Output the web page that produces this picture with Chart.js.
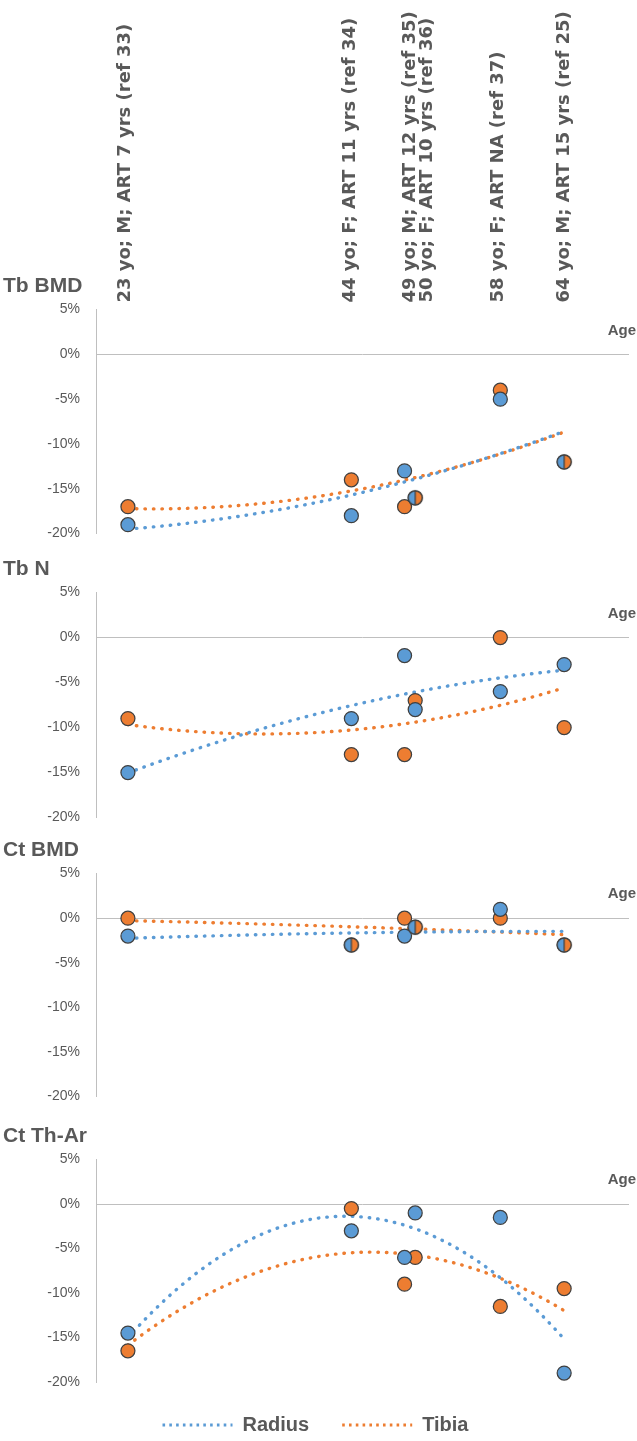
<!DOCTYPE html>
<html>
<head>
<meta charset="utf-8">
<script src="https://cdn.jsdelivr.net/npm/chart.js@4.4.1/dist/chart.umd.min.js"></script>
<style>
  html, body { margin: 0; padding: 0; background: #fff; width: 637px; height: 1441px; overflow: hidden; position: relative; }
  .panel { position: absolute; left: 0; width: 637px; }
</style>
</head>
<body>
<div class="panel" style="top:0px;height:558px"><canvas id="p0"></canvas></div>
<div class="panel" style="top:549px;height:293px"><canvas id="p1"></canvas></div>
<div class="panel" style="top:830px;height:291px"><canvas id="p2"></canvas></div>
<div class="panel" style="top:1116px;height:329px"><canvas id="p3"></canvas></div>
<script>
// ages of the six cases (x values) and the header text above them
const ages = [23, 44, 49, 50, 58, 64];
const caseLabels = [
  '23 yo; M; ART 7 yrs (ref 33)',
  '44 yo; F; ART 11 yrs (ref 34)',
  '49 yo; M; ART 12 yrs (ref 35)',
  '50 yo; F; ART 10 yrs (ref 36)',
  '58 yo; F; ART NA (ref 37)',
  '64 yo; M; ART 15 yrs (ref 25)'
];
const panelTitles = ['Tb BMD', 'Tb N', 'Ct BMD', 'Ct Th-Ar'];
const seriesNames = ['Radius', 'Tibia'];

// % change per case
const tbBmdRadius = [-19, -18, -13, -16, -5, -12];
const tbBmdTibia  = [-17, -14, -17, -16, -4, -12];
const tbNRadius   = [-15, -9, -2, -8, -6, -3];
const tbNTibia    = [-9, -13, -13, -7, 0, -10];
const ctBmdRadius = [-2, -3, -2, -1, 1, -3];
const ctBmdTibia  = [0, -3, 0, -1, 0, -3];
const ctThRadius  = [-14.5, -3, -6, -1, -1.5, -19];
const ctThTibia   = [-16.5, -0.5, -9, -6, -11.5, -9.5];

const yTicks = [5, 0, -5, -10, -15, -20];

const panelData = [
  [tbBmdRadius, tbBmdTibia],
  [tbNRadius, tbNTibia],
  [ctBmdRadius, ctBmdTibia],
  [ctThRadius, ctThTibia]
];

// styling / layout
const BLUE = '#5B9BD5', ORANGE = '#ED7D31', TEXT = '#595959', AXIS = '#bfbfbf';
const SANS = '"Liberation Sans", Arial, sans-serif';
const panelPadTop = [274, 8, 8, 8];
const panelPadBottom = [12, 12, 12, 0];
const headerNudge = [2, 4, 10, 17, 3, 5]; // px, keeps 49/50 labels apart

// 2nd order polynomial trendline (least squares), like Excel
function polyFit2(xs, ys) {
  const n = xs.length;
  let s = [0, 0, 0, 0, 0], t = [0, 0, 0];
  for (let i = 0; i < n; i++) {
    let p = 1;
    for (let k = 0; k < 5; k++) { s[k] += p; if (k < 3) t[k] += p * ys[i]; p *= xs[i]; }
  }
  const m = [[s[0], s[1], s[2], t[0]], [s[1], s[2], s[3], t[1]], [s[2], s[3], s[4], t[2]]];
  for (let c = 0; c < 3; c++) {
    for (let r = c + 1; r < 3; r++) {
      const f = m[r][c] / m[c][c];
      for (let k = c; k < 4; k++) m[r][k] -= f * m[c][k];
    }
  }
  const coef = [0, 0, 0];
  for (let r = 2; r >= 0; r--) {
    let v = m[r][3];
    for (let k = r + 1; k < 3; k++) v -= m[r][k] * coef[k];
    coef[r] = v / m[r][r];
  }
  return x => coef[0] + coef[1] * x + coef[2] * x * x;
}

function trendPoints(ys) {
  const f = polyFit2(ages, ys);
  const pts = [];
  const lo = Math.min(...ages), hi = Math.max(...ages);
  for (let x = lo; x <= hi + 1e-9; x += 0.25) pts.push({ x: x, y: f(x) });
  return pts;
}

// marker for cases where radius and tibia coincide: half blue, half orange
function halfDot() {
  const c = document.createElement('canvas');
  c.width = 20; c.height = 20;
  const g = c.getContext('2d');
  g.beginPath(); g.arc(10, 10, 7, Math.PI / 2, Math.PI * 1.5); g.closePath(); g.fillStyle = BLUE; g.fill();
  g.beginPath(); g.arc(10, 10, 7, -Math.PI / 2, Math.PI / 2); g.closePath(); g.fillStyle = ORANGE; g.fill();
  g.strokeStyle = '#404040'; g.lineWidth = 1.25;
  g.beginPath(); g.moveTo(10, 3); g.lineTo(10, 17); g.stroke();
  g.beginPath(); g.arc(10, 10, 7, 0, Math.PI * 2); g.stroke();
  return c;
}
const HALF = halfDot();

const ageLabel = {
  id: 'ageLabel',
  afterDraw(chart) {
    const ctx = chart.ctx;
    const y0 = chart.scales.y.getPixelForValue(0);
    ctx.save();
    ctx.font = 'bold 15px ' + SANS;
    ctx.fillStyle = TEXT;
    ctx.textAlign = 'right';
    ctx.textBaseline = 'middle';
    ctx.fillText('Age', 636, y0 - 24);
    ctx.restore();
  }
};

const caseHeader = {
  id: 'caseHeader',
  afterDraw(chart) {
    const ctx = chart.ctx;
    const xs = chart.scales.x;
    ctx.save();
    ctx.font = 'bold 18px "DejaVu Sans", sans-serif';
    ctx.fillStyle = TEXT;
    ctx.textAlign = 'left';
    ctx.textBaseline = 'alphabetic';
    ages.forEach((a, i) => {
      ctx.save();
      ctx.translate(xs.getPixelForValue(a) + headerNudge[i], chart.chartArea.top - 7);
      ctx.rotate(-Math.PI / 2);
      ctx.fillText(caseLabels[i], 0, 0);
      ctx.restore();
    });
    ctx.restore();
  }
};

panelData.forEach(([radius, tibia], p) => {
  const last = p === panelData.length - 1;
  new Chart(document.getElementById('p' + p), {
    type: 'scatter',
    data: {
      datasets: [
        {
          label: seriesNames[0] + ' cases',
          data: ages.map((a, i) => ({ x: a, y: radius[i] })),
          backgroundColor: BLUE, borderColor: '#404040', borderWidth: 1.25,
          pointRadius: 7,
          pointStyle: c => (tibia[c.dataIndex] === radius[c.dataIndex] ? HALF : 'circle')
        },
        {
          label: seriesNames[1] + ' cases',
          data: ages.map((a, i) => ({ x: a, y: tibia[i] })),
          backgroundColor: ORANGE, borderColor: '#404040', borderWidth: 1.25,
          pointRadius: 7
        },
        {
          label: seriesNames[0],
          data: trendPoints(radius),
          showLine: true, pointRadius: 0, borderColor: BLUE, borderWidth: 3.4,
          borderDash: [0.5, 8], borderCapStyle: 'round'
        },
        {
          label: seriesNames[1],
          data: trendPoints(tibia),
          showLine: true, pointRadius: 0, borderColor: ORANGE, borderWidth: 3.4,
          borderDash: [0.5, 8], borderCapStyle: 'round'
        }
      ]
    },
    options: {
      responsive: true,
      maintainAspectRatio: false,
      animation: false,
      events: [],
      layout: { padding: { left: 3, right: 9, top: panelPadTop[p], bottom: panelPadBottom[p] } },
      scales: {
        x: {
          type: 'linear', min: 20, max: 70,
          position: { y: 0 },
          afterFit: s => { s.height = 0; },
          ticks: { display: false },
          grid: { display: false, drawTicks: false },
          border: { color: AXIS, width: 1 }
        },
        y: {
          min: Math.min(...yTicks), max: Math.max(...yTicks),
          afterBuildTicks: s => { s.ticks = yTicks.map(v => ({ value: v })); },
          afterFit: s => { s.width = 93; },
          ticks: {
            padding: 16, color: TEXT,
            font: { family: SANS, size: 14 },
            callback: v => v + '%'
          },
          grid: { display: false, drawTicks: false },
          border: { color: AXIS, width: 1 }
        }
      },
      plugins: {
        tooltip: { enabled: false },
        title: {
          display: true, text: panelTitles[p], align: 'start', color: TEXT,
          font: { family: SANS, size: 21, weight: 'bold' },
          padding: { top: 0, bottom: 10.4 }
        },
        legend: {
          display: last,
          position: 'bottom',
          labels: {
            usePointStyle: true, pointStyleWidth: 70, padding: 33,
            color: TEXT, font: { family: SANS, size: 20, weight: 'bold' },
            generateLabels: () => seriesNames.map((name, i) => ({
              text: name, fillStyle: 'rgba(0,0,0,0)', strokeStyle: i ? ORANGE : BLUE,
              lineWidth: 3, lineDash: [2.6, 4.2], lineCap: 'butt', pointStyle: 'line',
              fontColor: TEXT, hidden: false, datasetIndex: i + 2
            }))
          }
        }
      }
    },
    plugins: p === 0 ? [ageLabel, caseHeader] : [ageLabel]
  });
});
</script>
</body>
</html>
